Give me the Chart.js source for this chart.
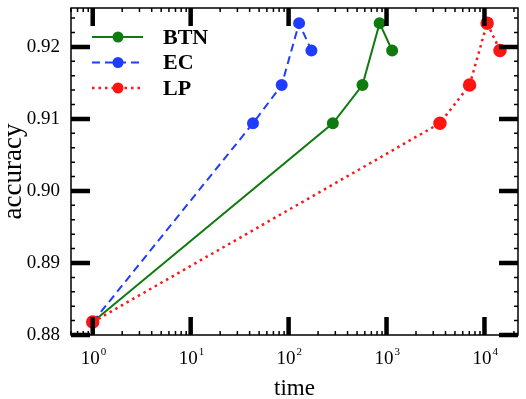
<!DOCTYPE html>
<html>
<head>
<meta charset="utf-8">
<script src="https://cdn.jsdelivr.net/npm/chart.js@4/dist/chart.umd.min.js"></script>
<style>
  html, body { margin: 0; padding: 0; background: #ffffff; }
  #wrap { width: 526px; height: 399px; }
</style>
</head>
<body>
<div id="wrap"><canvas id="acc_chart" width="526" height="399"></canvas></div>
<script>
// data
var seriesNames = ['BTN', 'EC', 'LP'];
var accuracy = [0.8818, 0.9094, 0.9147, 0.9233, 0.9195];
var btnTime = [1, 283, 568, 850, 1141];
var ecTime = [1, 43.3, 85, 128, 171];
var lpTime = [1, 3511, 7050, 10650, 14400];
var xTickValues = [1, 10, 100, 1000, 10000];
var xTickExp = ['0', '1', '2', '3', '4'];
var yTickValues = [0.88, 0.89, 0.90, 0.91, 0.92];

var SERIF = '"Liberation Serif", "Times New Roman", serif';

function toPoints(xs) {
    return xs.map(function(x, i) { return {x: x, y: accuracy[i]}; });
}

function noPad(s) {
    s.paddingTop = 0; s.paddingBottom = 0;
    s.paddingLeft = 0; s.paddingRight = 0;
}

// inward tick marks, superscript x labels and legend
var frameTicks = {
    id: 'frameTicks',
    afterDraw: function(chart) {
        var ctx = chart.ctx, a = chart.chartArea;
        var xs = chart.scales.x, ys = chart.scales.y;
        ctx.save();
        ctx.strokeStyle = '#000';
        ctx.lineCap = 'butt';

        // minor ticks x
        ctx.lineWidth = 1.5;
        for (var d = -1; d <= 4; d++) {
            for (var k = 2; k <= 9; k++) {
                var v = k * Math.pow(10, d);
                if (v < xs.min || v > xs.max) continue;
                var px = xs.getPixelForValue(v);
                ctx.beginPath();
                ctx.moveTo(px, a.bottom); ctx.lineTo(px, a.bottom - 4);
                ctx.moveTo(px, a.top); ctx.lineTo(px, a.top + 4);
                ctx.stroke();
            }
        }
        // minor ticks y
        for (var yv = 0.88; yv <= ys.max; yv += 0.002) {
            var py = ys.getPixelForValue(yv);
            ctx.beginPath();
            ctx.moveTo(a.left, py); ctx.lineTo(a.left + 4, py);
            ctx.moveTo(a.right, py); ctx.lineTo(a.right - 4, py);
            ctx.stroke();
        }

        // major ticks
        ctx.lineWidth = 4.5;
        xTickValues.forEach(function(v) {
            var px = xs.getPixelForValue(v);
            ctx.beginPath();
            ctx.moveTo(px, a.bottom); ctx.lineTo(px, a.bottom - 18);
            ctx.moveTo(px, a.top); ctx.lineTo(px, a.top + 18);
            ctx.stroke();
        });
        yTickValues.forEach(function(v) {
            var py = ys.getPixelForValue(v);
            ctx.beginPath();
            ctx.moveTo(a.left, py); ctx.lineTo(a.left + 19, py);
            ctx.moveTo(a.right, py); ctx.lineTo(a.right - 19, py);
            ctx.stroke();
        });

        // frame
        ctx.lineWidth = 1.5;
        ctx.strokeRect(a.left, a.top, a.right - a.left, a.bottom - a.top);

        // x tick labels 10^n
        ctx.fillStyle = '#000';
        ctx.textBaseline = 'alphabetic';
        xTickValues.forEach(function(v, i) {
            var px = xs.getPixelForValue(v);
            ctx.font = '19px ' + SERIF;
            ctx.textAlign = 'right';
            ctx.fillText('10', px + 7, a.bottom + 29);
            ctx.font = '11px ' + SERIF;
            ctx.textAlign = 'left';
            ctx.fillText(xTickExp[i], px + 8, a.bottom + 20);
        });

        // legend
        var lx0 = a.left + 21, lx1 = a.left + 72, mx = a.left + 47;
        chart.data.datasets.forEach(function(ds, i) {
            var ly = a.top + 29 + i * 25.5;
            ctx.strokeStyle = ds.borderColor;
            ctx.lineWidth = ds.borderWidth;
            ctx.setLineDash(ds.borderDash || []);
            ctx.lineCap = ds.borderCapStyle || 'butt';
            ctx.beginPath();
            ctx.moveTo(lx0, ly); ctx.lineTo(lx1, ly);
            ctx.stroke();
            ctx.setLineDash([]);
            ctx.fillStyle = ds.backgroundColor;
            ctx.beginPath();
            ctx.arc(mx, ly, 5.5, 0, Math.PI * 2);
            ctx.fill();
            ctx.fillStyle = '#000';
            ctx.font = 'bold 22px ' + SERIF;
            ctx.textAlign = 'left';
            ctx.textBaseline = 'middle';
            ctx.fillText(ds.label, a.left + 92, ly + 1);
        });
        ctx.restore();
    }
};

var ctx = document.getElementById('acc_chart').getContext('2d');
var accChart = new Chart(ctx, {
    type: 'line',
    data: {
        datasets: [{
            label: seriesNames[0],
            data: toPoints(btnTime),
            borderColor: '#0f7b0f',
            backgroundColor: '#0f7b0f',
            borderWidth: 2,
            pointRadius: 5,
            order: 2
        }, {
            label: seriesNames[1],
            data: toPoints(ecTime),
            borderColor: '#1f3dff',
            backgroundColor: '#1f3dff',
            borderWidth: 2,
            borderDash: [8, 5],
            pointRadius: 5,
            order: 1
        }, {
            label: seriesNames[2],
            data: toPoints(lpTime),
            borderColor: '#ff1414',
            backgroundColor: '#ff1414',
            borderWidth: 2.5,
            borderDash: [2.5, 4],
            pointRadius: 5.5,
            order: 0
        }]
    },
    options: {
        responsive: false,
        animation: false,
        layout: { padding: { top: 3, right: 4, left: 0, bottom: 0 } },
        plugins: {
            legend: { display: false },
            tooltip: { enabled: false }
        },
        elements: {
            line: { tension: 0, fill: false },
            point: { borderWidth: 0 }
        },
        scales: {
            x: {
                type: 'logarithmic',
                min: 0.614,
                max: 22000,
                grid: { display: false },
                border: { display: false },
                ticks: { display: false },
                afterBuildTicks: function(s) {
                    s.ticks = xTickValues.map(function(v) { return {value: v}; });
                },
                afterFit: function(s) { s.height = 64; noPad(s); },
                title: {
                    display: true,
                    text: 'time',
                    color: '#000',
                    font: { family: SERIF, size: 23 },
                    padding: { top: 0, bottom: -4 }
                }
            },
            y: {
                min: 0.88,
                max: 0.9254,
                grid: { display: false },
                border: { display: false },
                afterBuildTicks: function(s) {
                    s.ticks = yTickValues.map(function(v) { return {value: v}; });
                },
                afterFit: function(s) { s.width = 71; noPad(s); },
                ticks: {
                    color: '#000',
                    padding: 3,
                    font: { family: SERIF, size: 19 },
                    callback: function(v) { return v.toFixed(2); }
                },
                title: {
                    display: true,
                    text: 'accuracy',
                    color: '#000',
                    font: { family: SERIF, size: 27 },
                    padding: { top: -2, bottom: 0 }
                }
            }
        }
    },
    plugins: [frameTicks]
});
</script>
</body>
</html>
